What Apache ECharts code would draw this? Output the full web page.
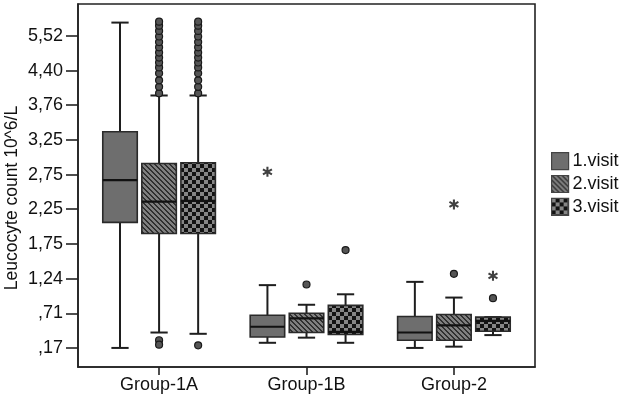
<!DOCTYPE html>
<html>
<head>
<meta charset="utf-8">
<script src="https://cdn.jsdelivr.net/npm/echarts@6/dist/echarts.min.js"></script>
<style>
  html, body { margin: 0; padding: 0; background: #fff; }
  #main { width: 622px; height: 397px; }
</style>
</head>
<body>
<div id="main"></div>
<script>
// categories
var groups = ['Group-1A', 'Group-1B', 'Group-2'];
var visits = ['1.visit', '2.visit', '3.visit'];

// y ticks: equally spaced on the chart, real values on the labels
var tickValues = [0.17, 0.71, 1.24, 1.75, 2.25, 2.75, 3.25, 3.76, 4.40, 5.52];
var tickLabels = [',17', ',71', '1,24', '1,75', '2,25', '2,75', '3,25', '3,76', '4,40', '5,52'];

// box stats per visit, one row per group: [min, Q1, median, Q3, max]
var visit1Boxes = [
  [0.17, 2.06, 2.67, 3.37, 5.95],
  [0.25, 0.34, 0.50, 0.68, 1.14],
  [0.17, 0.29, 0.41, 0.66, 1.19]
];
var visit2Boxes = [
  [0.41, 1.90, 2.36, 2.91, 3.94],
  [0.33, 0.41, 0.63, 0.71, 0.84],
  [0.19, 0.29, 0.52, 0.69, 0.95]
];
var visit3Boxes = [
  [0.39, 1.90, 2.37, 2.92, 3.94],
  [0.25, 0.38, 0.42, 0.83, 1.00],
  [0.37, 0.43, 0.59, 0.65, 0.65]
];

// outliers [groupIndex, value]
var visit1Circles = [];
var visit1Stars = [[1, 2.79]];
var visit2Circles = [
  [0, 3.98], [0, 4.10], [0, 4.22], [0, 4.35], [0, 4.50], [0, 4.66], [0, 4.82],
  [0, 4.98], [0, 5.15], [0, 5.32], [0, 5.50], [0, 5.68], [0, 5.85], [0, 5.98],
  [0, 0.29], [0, 0.22],
  [1, 1.15],
  [2, 1.31]
];
var visit2Stars = [[2, 2.32]];
var visit3Circles = [
  [0, 3.98], [0, 4.10], [0, 4.22], [0, 4.35], [0, 4.50], [0, 4.66], [0, 4.82],
  [0, 4.98], [0, 5.15], [0, 5.32], [0, 5.50], [0, 5.68], [0, 5.85], [0, 5.98],
  [0, 0.21],
  [1, 1.66],
  [2, 0.94]
];
var visit3Stars = [[2, 1.28]];

var allBoxes = [visit1Boxes, visit2Boxes, visit3Boxes];
var allCircles = [visit1Circles, visit2Circles, visit3Circles];
var allStars = [visit1Stars, visit2Stars, visit3Stars];

var visitShift = 0.265;   // box spacing within a group, x units
var boxWidth = 0.234;     // x units

// map a real value onto the tick scale (ticks drawn evenly spaced)
function toPos(v) {
  var n = tickValues.length;
  var i = 0;
  if (v <= tickValues[0]) i = 0;
  else if (v >= tickValues[n - 1]) i = n - 2;
  else while (v > tickValues[i + 1]) i++;
  return i + (v - tickValues[i]) / (tickValues[i + 1] - tickValues[i]);
}

function makePattern(kind) {
  var c = document.createElement('canvas');
  var s = kind === 'check' ? 8 : 5;
  c.width = s; c.height = s;
  var ctx = c.getContext('2d');
  var img = ctx.createImageData(s, s);
  for (var y = 0; y < s; y++) {
    for (var x = 0; x < s; x++) {
      var g;
      if (kind === 'hatch') {
        g = (((x - y) % s + s) % s) < 2 ? 0x30 : 0x80;
      } else {
        g = ((Math.floor(x / 4) + Math.floor(y / 4)) % 2) ? 0x12 : 0x85;
      }
      var k = (y * s + x) * 4;
      img.data[k] = g; img.data[k + 1] = g; img.data[k + 2] = g; img.data[k + 3] = 255;
    }
  }
  ctx.putImageData(img, 0, 0);
  return { image: c, repeat: 'repeat' };
}

var fills = ['#6e6e6e', makePattern('hatch'), makePattern('check')];

function renderBox(params, api) {
  var x = api.value(0);
  var half = api.size([boxWidth, 0])[0] / 2;
  var cap = half / 2;
  var pMin = api.coord([x, api.value(1)]);
  var pQ1 = api.coord([x, api.value(2)]);
  var pMed = api.coord([x, api.value(3)]);
  var pQ3 = api.coord([x, api.value(4)]);
  var pMax = api.coord([x, api.value(5)]);
  var cx = pMed[0];
  var line = { stroke: '#1e1e1e', lineWidth: 2 };
  return {
    type: 'group',
    children: [
      { type: 'line', shape: { x1: cx, y1: pMax[1], x2: cx, y2: pQ3[1] }, style: line },
      { type: 'line', shape: { x1: cx, y1: pQ1[1], x2: cx, y2: pMin[1] }, style: line },
      { type: 'line', shape: { x1: cx - cap, y1: pMax[1], x2: cx + cap, y2: pMax[1] }, style: line },
      { type: 'line', shape: { x1: cx - cap, y1: pMin[1], x2: cx + cap, y2: pMin[1] }, style: line },
      {
        type: 'rect',
        shape: { x: cx - half, y: pQ3[1], width: half * 2, height: pQ1[1] - pQ3[1] },
        style: { fill: fills[params.seriesIndex], stroke: '#2a2a2a', lineWidth: 1.6 }
      },
      { type: 'line', shape: { x1: cx - half, y1: pMed[1], x2: cx + half, y2: pMed[1] }, style: { stroke: '#111', lineWidth: 2.2 } }
    ]
  };
}

var starPath = 'path://M-1,-5 L1,-5 L1,5 L-1,5 Z ' +
  'M-4.83,-1.63 L-3.83,-3.37 L4.83,1.63 L3.83,3.37 Z ' +
  'M3.83,-3.37 L4.83,-1.63 L-3.83,3.37 L-4.83,1.63 Z';

var series = [];
visits.forEach(function (name, v) {
  var shift = (v - 1) * visitShift;
  series.push({
    name: name,
    type: 'custom',
    renderItem: renderBox,
    itemStyle: { color: fills[v], borderColor: '#2a2a2a', borderWidth: 1.5 },
    encode: { x: 0, y: [1, 2, 3, 4, 5] },
    data: allBoxes[v].map(function (b, g) {
      return [g + shift].concat(b.map(toPos));
    })
  });
});
visits.forEach(function (name, v) {
  var shift = (v - 1) * visitShift;
  series.push({
    type: 'scatter',
    symbol: 'circle',
    symbolSize: 7,
    itemStyle: { color: '#555', borderColor: '#1a1a1a', borderWidth: 1.2, opacity: 1 },
    data: allCircles[v].map(function (p) { return [p[0] + shift, toPos(p[1])]; })
  });
  series.push({
    type: 'scatter',
    symbol: starPath,
    symbolSize: 10,
    itemStyle: { color: '#111' },
    data: allStars[v].map(function (p) { return [p[0] + shift, toPos(p[1])]; })
  });
});

var chart = echarts.init(document.getElementById('main'));
chart.setOption({
  animation: false,
  backgroundColor: '#fff',
  textStyle: { fontFamily: 'Liberation Sans, Arial, sans-serif' },
  grid: {
    left: 78, top: 4, right: 87, bottom: 30,
    show: true, borderColor: '#222', borderWidth: 1.6
  },
  legend: {
    data: visits,
    orient: 'vertical',
    left: 551, top: 152,
    padding: 0,
    itemWidth: 17, itemHeight: 17, itemGap: 4.7,
    icon: 'rect',
    itemStyle: { borderColor: '#444', borderWidth: 1.2 },
    textStyle: { fontSize: 18, color: '#111', padding: [0, 0, 0, -1] }
  },
  xAxis: {
    type: 'value',
    min: -0.55, max: 2.55,
    splitLine: { show: false },
    axisLine: { onZero: false, lineStyle: { color: '#222', width: 1.6 } },
    axisTick: { customValues: [0, 1, 2], length: 8, lineStyle: { color: '#222', width: 1.6 } },
    axisLabel: {
      customValues: [0, 1, 2],
      margin: 9,
      fontSize: 18, color: '#111',
      formatter: function (val) { return groups[Math.round(val)]; }
    }
  },
  yAxis: {
    type: 'value',
    min: -0.55, max: 9.92,
    splitLine: { show: false },
    axisLine: { show: true, onZero: false, lineStyle: { color: '#222', width: 1.6 } },
    axisTick: { show: true, customValues: [0, 1, 2, 3, 4, 5, 6, 7, 8, 9], length: 12, lineStyle: { color: '#222', width: 1.6 } },
    axisLabel: {
      customValues: [0, 1, 2, 3, 4, 5, 6, 7, 8, 9],
      margin: 15,
      fontSize: 18, color: '#111',
      formatter: function (val) { return tickLabels[Math.round(val)]; }
    }
  },
  graphic: [{
    type: 'text',
    x: 12, y: 198,
    rotation: Math.PI / 2,
    style: {
      text: 'Leucocyte count 10^6/L',
      font: '17.5px "Liberation Sans", Arial, sans-serif',
      fill: '#111',
      textAlign: 'center',
      textVerticalAlign: 'middle'
    }
  }],
  series: series
});
</script>
</body>
</html>
